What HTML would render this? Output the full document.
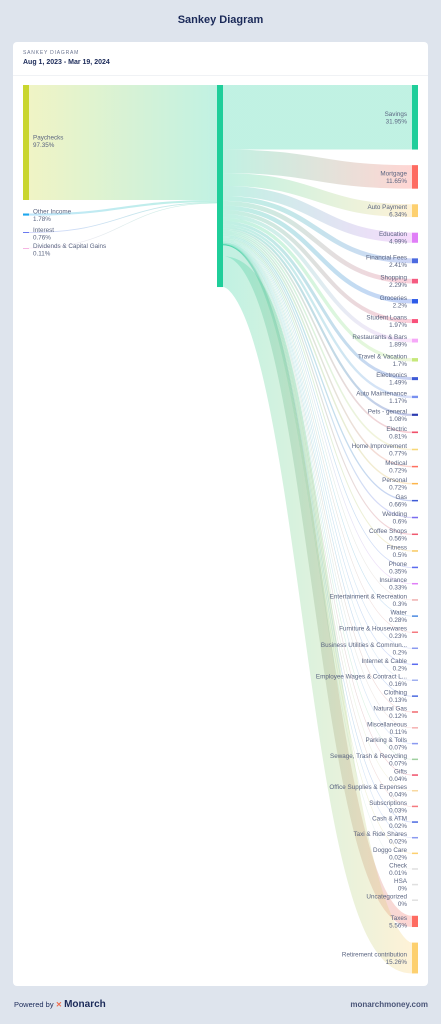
<!DOCTYPE html>
<html><head><meta charset="utf-8">
<style>
body{margin:0;width:441px;height:1024px;background:#dee4ed;font-family:"Liberation Sans",sans-serif;position:relative;overflow:hidden}
.t{position:absolute}
</style></head><body>
<div class="t" style="left:0;width:441px;top:14px;text-align:center;font-size:11px;font-weight:bold;color:#1b2a59">Sankey Diagram</div>
<div style="position:absolute;left:13px;top:42px;width:415px;height:944px;background:#fff;border-radius:4px"></div>
<div class="t" style="left:23px;top:50px;font-size:5px;letter-spacing:0.8px;color:#6b7590">SANKEY DIAGRAM</div>
<div class="t" style="left:23px;top:59px;font-size:7px;font-weight:bold;color:#1b2a59">Aug 1, 2023 - Mar 19, 2024</div>
<div style="position:absolute;left:13px;top:75px;width:415px;height:1px;background:#f0f2f5"></div>
<svg id="s" width="441" height="1024" style="position:absolute;left:0;top:0" font-family="Liberation Sans, sans-serif"></svg>
<div class="t" style="left:14px;top:999px;font-size:7.5px;color:#1b2a59">Powered by <span style="color:#f06a4a;font-weight:bold">✕</span> <b style="font-size:10px">Monarch</b></div>
<div class="t" style="right:13px;top:1000px;font-size:8px;font-weight:bold;color:#4a5578">monarchmoney.com</div>
<script>
const sourceNames=["Paychecks","Other Income","Interest","Dividends & Capital Gains"];
const sourceValues=[97.35,1.78,0.76,0.11];
const sourceColors=["#c9d62f","#1ea7ee","#5b6bef","#f4a3dc"];
const targetNames=["Savings","Mortgage","Auto Payment","Education","Financial Fees","Shopping","Groceries","Student Loans","Restaurants & Bars","Travel & Vacation","Electronics","Auto Maintenance","Pets - general","Electric","Home Improvement","Medical","Personal","Gas","Wedding","Coffee Shops","Fitness","Phone","Insurance","Entertainment & Recreation","Water","Furniture & Housewares","Business Utilities & Commun...","Internet & Cable","Employee Wages & Contract L...","Clothing","Natural Gas","Miscellaneous","Parking & Tolls","Sewage, Trash & Recycling","Gifts","Office Supplies & Expenses","Subscriptions","Cash & ATM","Taxi & Ride Shares","Doggo Care","Check","HSA","Uncategorized","Taxes","Retirement contribution"];
const targetValues=[31.95,11.65,6.34,4.99,2.41,2.29,2.2,1.97,1.89,1.7,1.49,1.17,1.08,0.81,0.77,0.72,0.72,0.66,0.6,0.56,0.5,0.35,0.33,0.3,0.28,0.23,0.2,0.2,0.16,0.13,0.12,0.11,0.07,0.07,0.04,0.04,0.03,0.02,0.02,0.02,0.01,0,0,5.56,15.26];
const palette=["#1fce9a","#fe6b61","#fdd06f","#e07ef7","#4c6ae0","#f55a80","#2d5be8","#f9507a","#f6a8f8","#c6e87a","#3d5ad6","#7890f0","#2c3bb0","#f0506a","#f8d878","#ff7060","#fdb54a","#3d5ad6","#7a6cf0","#f05a70","#f8c860","#5b6bef","#e07ef7","#f0b0b0","#4c8ae0","#f57a80","#8a9af0","#5b6bef","#a0b0f0","#4c6ae0","#f06a70","#f5b0b0","#8a9af0","#a0d0a0","#f0506a","#f8d8a0","#f57a80","#4c6ae0","#8a9af0","#fdd06f","#e0e0e0","#e0e0e0","#e0e0e0","#fe6b61","#fdd06f"];
const svg=document.getElementById('s');const NS='http://www.w3.org/2000/svg';
function el(t,a){const e=document.createElementNS(NS,t);for(const k in a)e.setAttribute(k,a[k]);return e;}
const defs=el('defs',{});svg.appendChild(defs);
const top0=85,scaleR=2.02,scaleL=115/97.35,gap=15.6,midX=217,midW=6,rX=412,lX=23,nW=6;
let y=top0,srcY=top0;const tys=[];
targetValues.forEach((v,i)=>{const h=v*scaleR;tys.push(y);y+=h+gap;});
const midH=targetValues.reduce((a,b)=>a+b,0)*scaleR;
function band(x0,y0,x1,y1,h,stroke,name){const mx=(x0+x1)/2;const p=el('path',{d:`M${x0},${y0+h/2}C${mx},${y0+h/2} ${mx},${y1+h/2} ${x1},${y1+h/2}`,fill:'none',stroke:stroke,'stroke-width':Math.max(h,0.6),'stroke-opacity':0.28});


svg.appendChild(p);}
let ly=top0,my=top0;
sourceValues.forEach((v,i)=>{
  const h=v*scaleL;
  const gid='lg'+i;const g=el('linearGradient',{id:gid,gradientUnits:'userSpaceOnUse',x1:lX+nW,x2:midX,y1:0,y2:0});
  g.appendChild(el('stop',{offset:0,'stop-color':sourceColors[i]}));g.appendChild(el('stop',{offset:1,'stop-color':'#1fce9a'}));defs.appendChild(g);
  const nodeY=i==0?top0:[0,213.5,232,248][i];
  band(lX+nW,nodeY,midX,my,h,`url(#${gid})`,'link-'+sourceNames[i].toLowerCase().replace(/[^a-z]+/g,'-'));
  my+=h;
  const r=el('rect',{x:lX,y:nodeY,width:nW,height:Math.max(h,0.8),fill:sourceColors[i]});
  
  
  svg.appendChild(r);
  const ty=i==0?nodeY+h/2-5:nodeY-2;
  const t1=el('text',{x:lX+10,y:ty+2,'font-size':6.3,fill:'#5a6480'});t1.textContent=sourceNames[i];
  
  
  svg.appendChild(t1);
  const t2=el('text',{x:lX+10,y:ty+9.5,'font-size':6.3,fill:'#5a6480'});t2.textContent=v+'%';
  
  
  svg.appendChild(t2);
});
targetValues.forEach((v,i)=>{
  const h=v*scaleR;const gid='rg'+i;
  const g=el('linearGradient',{id:gid,gradientUnits:'userSpaceOnUse',x1:midX+midW,x2:rX,y1:0,y2:0});
  g.appendChild(el('stop',{offset:0,'stop-color':'#1fce9a'}));g.appendChild(el('stop',{offset:1,'stop-color':palette[i]}));defs.appendChild(g);
  if(h>0)band(midX+midW,srcY,rX,tys[i],h,`url(#${gid})`,'link-'+i);
  srcY+=h;
});
targetValues.forEach((v,i)=>{
  const h=v*scaleR;
  const hh=Math.max(h,1.5);
  const r=el('rect',{x:rX,y:tys[i]+h/2-hh/2,width:nW,height:hh,fill:palette[i]});
  
  
  svg.appendChild(r);
  const c=tys[i]+h/2;
  const t1=el('text',{x:rX-5,y:c-1.5,'font-size':6.3,fill:'#5a6480','text-anchor':'end'});t1.textContent=targetNames[i];
  
  
  svg.appendChild(t1);
  const t2=el('text',{x:rX-5,y:c+6,'font-size':6.3,fill:'#5a6480','text-anchor':'end'});t2.textContent=v+'%';
  
  
  svg.appendChild(t2);
});
const m=el('rect',{x:midX,y:top0,width:midW,height:midH,fill:'#1fce9a'});


svg.appendChild(m);
</script>
</body></html>
